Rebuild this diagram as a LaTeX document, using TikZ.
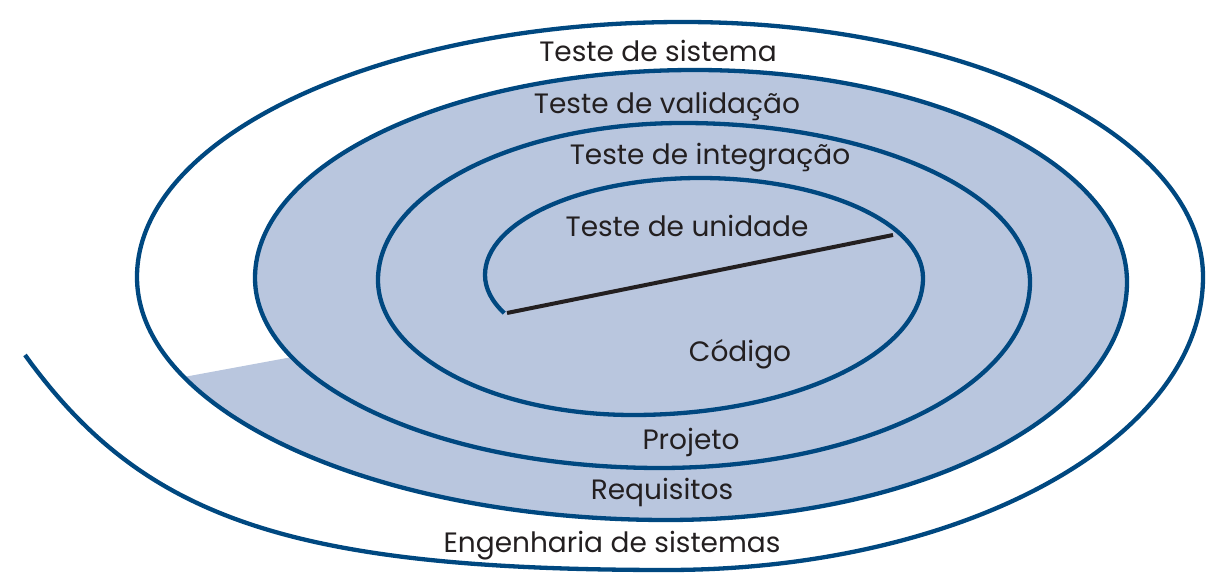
\documentclass[tikz,border=0pt]{standalone}
\usepackage{fontspec}
\setmainfont{Poppins}
\usetikzlibrary{calc}
\definecolor{spiralblue}{RGB}{0,72,128}
\definecolor{bandfill}{RGB}{185,198,222}
\definecolor{inkc}{RGB}{35,31,32}
\begin{document}
\begin{tikzpicture}[x=1pt,y=1pt,
  spiral/.style={draw=spiralblue, line width=4.3pt},
  axisline/.style={draw=inkc, line width=4pt},
  lbl/.style={anchor=base, inner sep=0pt, text=inkc, font=\fontsize{28}{30}\selectfont}]
\useasboundingbox (0,0) rectangle (1224,586);
% shaded region (one full turn closed by a chord)
\coordinate (p1) at ($(660,308)+(204.6:405 and 190)$);
\fill[bandfill] (p1)
  arc[start angle=204.6, end angle=180, x radius=405, y radius=190]
  arc[start angle=180, end angle=90, x radius=440, y radius=208]
  arc[start angle=90, end angle=0, x radius=432, y radius=212]
  arc[start angle=0, end angle=-90, x radius=460, y radius=238]
  arc[start angle=270, end angle=204.3, x radius=530, y radius=243] -- cycle;
% spiral
\coordinate (s0) at ($(645,311)+(208.4:160 and 80)$);
\coordinate (e0) at (25,231);
\draw[spiral] (s0)
  arc[start angle=208.4, end angle=180, x radius=160, y radius=80]
  arc[start angle=180, end angle=90, x radius=215, y radius=97]
  arc[start angle=90, end angle=0, x radius=223, y radius=100]
  arc[start angle=0, end angle=-90, x radius=290, y radius=137]
  arc[start angle=270, end angle=180, x radius=255, y radius=135]
  arc[start angle=180, end angle=90, x radius=305, y radius=157]
  arc[start angle=90, end angle=0, x radius=347, y radius=159]
  arc[start angle=0, end angle=-90, x radius=370, y radius=186]
  arc[start angle=270, end angle=180, x radius=405, y radius=190]
  arc[start angle=180, end angle=90, x radius=440, y radius=208]
  arc[start angle=90, end angle=0, x radius=432, y radius=212]
  arc[start angle=0, end angle=-90, x radius=460, y radius=238]
  arc[start angle=270, end angle=180, x radius=530, y radius=243]
  arc[start angle=180, end angle=90, x radius=546, y radius=255]
  arc[start angle=90, end angle=0, x radius=520, y radius=255]
  arc[start angle=0, end angle=-90, x radius=536, y radius=293]
  .. controls (287,16) and (142,69) .. (e0);
% axis line
\coordinate (a0) at (507,273);
\coordinate (a1) at (893,351);
\draw[axisline] (a0) -- (a1);
% labels
\node[lbl] (tsis) at (658,524) {Teste de sistema};
\node[lbl] (tval) at (667,472) {Teste de validação};
\node[lbl] (tint) at (710,421) {Teste de integração};
\node[lbl] (tuni) at (687,349) {Teste de unidade};
\node[lbl] (cod) at (740,224) {Código};
\node[lbl] (proj) at (691,136) {Projeto};
\node[lbl] (req) at (662,86) {Requisitos};
\node[lbl] (eng) at (612,33) {Engenharia de sistemas};
\end{tikzpicture}
\end{document}
